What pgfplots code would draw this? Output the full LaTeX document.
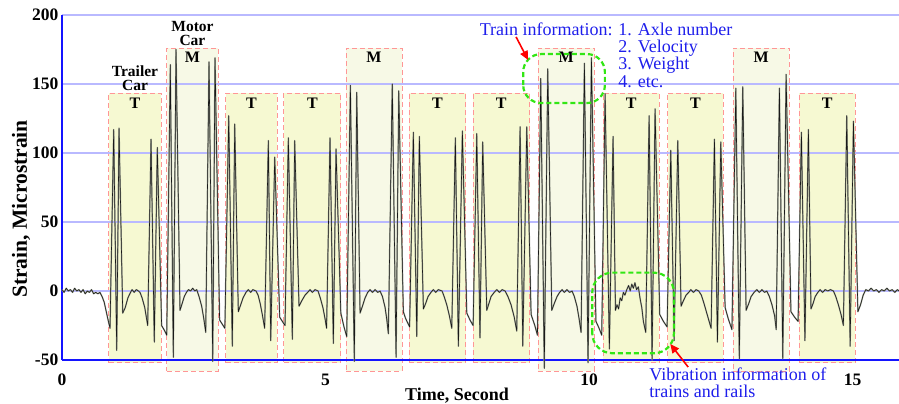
\documentclass[border=0pt]{standalone}
\usepackage{pgfplots}
\pgfplotsset{compat=1.18}
\usepackage{pgfplotstable}
\usetikzlibrary{arrows.meta}
\usepackage{fontspec}
\setmainfont{Liberation Serif}
\definecolor{axisblue}{RGB}{20,20,255}
\definecolor{gridlight}{RGB}{185,185,255}
\definecolor{griddark}{RGB}{120,120,235}
\definecolor{tfill}{RGB}{246,249,210}
\definecolor{mfill}{RGB}{247,249,230}
\definecolor{boxred}{RGB}{255,150,150}
\definecolor{ggreen}{RGB}{50,230,20}
\definecolor{txtblue}{RGB}{30,30,235}
\definecolor{halo}{RGB}{150,155,140}
\tikzset{
  tbox/.style={fill=tfill, draw=boxred, dash pattern=on 5pt off 3pt, line width=0.9pt},
  mbox/.style={fill=mfill, draw=boxred, dash pattern=on 5pt off 3pt, line width=0.9pt},
  carlab/.style={font=\bfseries\fontsize{16}{16}\selectfont, anchor=base},
  typelab/.style={font=\bfseries\fontsize{15.5}{16}\selectfont, anchor=base},
  note/.style={txtblue, font=\fontsize{18}{18}\selectfont, inner sep=0pt},
}
\pgfplotstableread{
x y
0.00 1
0.04 -1
0.08 2
0.12 0
0.16 1
0.20 -1
0.24 2
0.28 0
0.32 1
0.36 -1
0.40 1
0.44 -2
0.48 0
0.52 -1
0.56 1
0.60 -2
0.64 -1
0.68 -2
0.72 -1
0.76 -4
0.80 -8
0.84 -15
0.88 -22
0.911 -27
0.981 117
1.038 -43
1.082 118
1.152 -16
1.20 -12
1.25 -5
1.30 -1
1.33 1
1.37 -1
1.41 1
1.45 0
1.48 -1
1.52 -5
1.57 -12
1.626 -25
1.689 110
1.751 -37
1.808 104
1.89 -25
1.95 -29
1.987 -32
2.055 164
2.112 -48
2.163 175
2.239 -14
2.28 -9
2.32 -4
2.36 -1
2.40 1
2.44 0
2.48 2
2.52 0
2.556 1
2.60 -4
2.65 -11
2.69 -20
2.727 -30
2.789 166
2.860 -51
2.903 169
2.99 -21
3.04 -24
3.09 -27
3.163 127
3.231 -40
3.277 121
3.345 -15
3.39 -10
3.435 -5
3.49 -1
3.535 1
3.58 -1
3.62 1
3.681 0
3.72 -3
3.76 -9
3.80 -17
3.845 -27
3.915 109
3.960 -36
4.036 97
4.13 -19
4.231 -25
4.294 111
4.370 -35
4.415 109
4.497 -11
4.55 -7
4.611 -3
4.66 -1
4.706 1
4.75 -1
4.80 1
4.858 0
4.90 -5
4.95 -12
4.99 -20
5.02 -27
5.085 111
5.148 -38
5.199 103
5.29 -16
5.35 -26
5.402 -33
5.471 149
5.546 -51
5.592 144
5.655 -16
5.70 -11
5.750 -5
5.80 -1
5.844 1
5.89 -1
5.94 1
5.99 -1
6.034 0
6.08 -4
6.13 -12
6.16 -20
6.192 -31
6.266 150
6.338 -48
6.389 145
6.476 -15
6.52 -20
6.595 -26
6.666 115
6.731 -33
6.780 112
6.856 -13
6.90 -9
6.945 -4
7.00 -1
7.046 1
7.09 -1
7.14 1
7.211 0
7.25 -4
7.30 -10
7.35 -18
7.395 -27
7.463 111
7.520 -40
7.596 116
7.680 -16
7.74 -21
7.80 -25
7.869 114
7.930 -34
7.982 108
8.059 -14
8.10 -9
8.140 -4
8.20 -1
8.249 1
8.30 -1
8.35 1
8.406 0
8.46 -4
8.52 -10
8.58 -19
8.628 -29
8.691 119
8.742 -40
8.818 119
8.90 -17
8.97 -25
9.02 -32
9.083 154
9.150 -56
9.216 161
9.292 -14
9.34 -9
9.393 -4
9.44 -1
9.488 1
9.53 -1
9.58 1
9.63 -1
9.677 0
9.72 -4
9.77 -11
9.81 -20
9.848 -30
9.911 165
9.980 -52
10.044 169
10.13 -22
10.19 -27
10.24 -32
10.304 143
10.385 -42
10.455 112
10.50 -14
10.53 -10
10.56 -13
10.59 -5
10.62 -7
10.65 -1
10.68 -3
10.715 1
10.75 4
10.78 0
10.81 5
10.84 2
10.87 6
10.90 1
10.935 3
10.97 -6
11.00 -12
11.03 -22
11.075 -30
11.139 127
11.195 -50
11.252 132
11.34 -17
11.41 -22
11.48 -26
11.550 102
11.613 -36
11.683 109
11.745 -11
11.79 -7
11.84 -3
11.89 -1
11.93 1
11.98 -1
12.03 1
12.08 0
12.13 -3
12.18 -9
12.24 -17
12.315 -27
12.378 110
12.435 -37
12.499 108
12.581 -12
12.64 -20
12.71 -28
12.784 147
12.850 -49
12.916 148
12.979 -14
13.03 -9
13.074 -4
13.13 -1
13.182 1
13.23 -1
13.28 1
13.33 -1
13.371 0
13.42 -4
13.47 -10
13.52 -18
13.55 -28
13.611 147
13.675 -49
13.738 157
13.83 -15
13.90 -19
13.965 -22
14.028 115
14.095 -36
14.161 117
14.21 -13
14.25 -9
14.29 -4
14.34 -1
14.383 1
14.43 -1
14.48 1
14.53 0
14.58 1
14.636 0
14.68 -4
14.73 -10
14.78 -17
14.825 -25
14.889 127
14.953 -40
15.015 123
15.10 -15
15.15 -10
15.20 -3
15.25 1
15.30 0
15.35 2
15.40 0
15.45 1
15.50 -1
15.55 1
15.60 0
15.65 2
15.70 0
15.75 1
15.80 -1
15.85 1
15.88 0
}\signal
\begin{document}
\begin{tikzpicture}
\begin{axis}[
  at={(62pt,-360pt)}, anchor=south west,
  scale only axis, width=837pt, height=345pt,
  xmin=0, xmax=15.88, ymin=-50, ymax=200,
  clip=false, set layers,
  axis x line*=bottom, axis y line*=left,
  x axis line style={-, draw=axisblue, line width=2.6pt},
  y axis line style={-, draw=axisblue, line width=2.6pt},
  xtick={0,5,10,15}, ytick={-50,50,150,200},
  extra y ticks={0,100},
  extra y tick style={grid style={draw=griddark, line width=0.8pt}},
  ymajorgrids,
  major grid style={draw=gridlight, line width=1.6pt},
  major tick length=0pt,
  /pgf/number format/assume math mode=true,
  ticklabel style={font=\bfseries\fontsize{17.5}{18}\selectfont},
  yticklabel style={anchor=east, inner sep=0pt, xshift=-3.5pt},
  xticklabel style={anchor=base, inner sep=0pt, yshift=-25pt},
  xlabel={Time, Second}, ylabel={Strain, Microstrain},
  xlabel style={at={(axis description cs:0.472,-0.116)}, anchor=base, font=\bfseries\fontsize{18}{20}\selectfont},
  ylabel style={at={(axis description cs:-0.049,0.438)}, anchor=center, font=\bfseries\fontsize{21.5}{24}\selectfont},
]
% car boxes
\addplot[tbox, on layer=axis background] coordinates {(0.89,-52) (1.88,-52) (1.88,143.5) (0.89,143.5)} -- cycle;
\addplot[mbox, on layer=axis background] coordinates {(1.99,-58) (2.96,-58) (2.96,176) (1.99,176)} -- cycle;
\addplot[tbox, on layer=axis background] coordinates {(3.11,-52) (4.08,-52) (4.08,143.5) (3.11,143.5)} -- cycle;
\addplot[tbox, on layer=axis background] coordinates {(4.21,-52) (5.29,-52) (5.29,143.5) (4.21,143.5)} -- cycle;
\addplot[mbox, on layer=axis background] coordinates {(5.39,-58) (6.45,-58) (6.45,176) (5.39,176)} -- cycle;
\addplot[tbox, on layer=axis background] coordinates {(6.59,-52) (7.66,-52) (7.66,143.5) (6.59,143.5)} -- cycle;
\addplot[tbox, on layer=axis background] coordinates {(7.80,-52) (8.87,-52) (8.87,143.5) (7.80,143.5)} -- cycle;
\addplot[mbox, on layer=axis background] coordinates {(9.03,-58) (10.10,-58) (10.10,176) (9.03,176)} -- cycle;
\addplot[tbox, on layer=axis background] coordinates {(10.27,-52) (11.33,-52) (11.33,143.5) (10.27,143.5)} -- cycle;
\addplot[tbox, on layer=axis background] coordinates {(11.49,-52) (12.55,-52) (12.55,143.5) (11.49,143.5)} -- cycle;
\addplot[mbox, on layer=axis background] coordinates {(12.73,-58) (13.80,-58) (13.80,176) (12.73,176)} -- cycle;
\addplot[tbox, on layer=axis background] coordinates {(13.99,-52) (15.05,-52) (15.05,143.5) (13.99,143.5)} -- cycle;
% strain signal
\addplot[draw=halo, line width=1.4pt, line join=round] table {\signal};
\addplot[draw=black!90, line width=0.55pt, line join=round] table {\signal};
% car labels
\node[carlab] at (axis cs:1.385,132.4) {T};
\node[carlab] at (axis cs:3.595,132.4) {T};
\node[carlab] at (axis cs:4.75,132.4) {T};
\node[carlab] at (axis cs:7.125,132.4) {T};
\node[carlab] at (axis cs:8.335,132.4) {T};
\node[carlab] at (axis cs:10.80,132.4) {T};
\node[carlab] at (axis cs:12.02,132.4) {T};
\node[carlab] at (axis cs:14.52,132.4) {T};
\node[carlab] at (axis cs:2.475,165.7) {M};
\node[carlab] at (axis cs:5.92,165.7) {M};
\node[carlab] at (axis cs:9.565,165.7) {M};
\node[carlab] at (axis cs:13.265,165.7) {M};
\node[typelab] at (axis cs:1.385,155.3) {Trailer};
\node[typelab] at (axis cs:1.385,145.2) {Car};
\node[typelab] at (axis cs:2.475,187.9) {Motor};
\node[typelab] at (axis cs:2.475,177.8) {Car};
% annotations
\draw[ggreen, line width=2.2pt, dash pattern=on 5pt off 3pt, rounded corners=18pt] (axis cs:8.75,136.2) rectangle (axis cs:10.30,171.7);
\draw[ggreen, line width=2.2pt, dash pattern=on 5pt off 3pt, rounded corners=20pt] (axis cs:10.06,-45.1) rectangle (axis cs:11.61,13.3);
\draw[red, line width=1.6pt, -{Triangle[length=9pt,width=8pt]}] (axis cs:8.615,184.1) -- (axis cs:8.843,167.4);
\draw[red, line width=1.6pt, -{Triangle[length=9pt,width=8pt]}] (axis cs:11.88,-55.1) -- (axis cs:11.54,-38.4);
\node[note, anchor=base east] at (axis cs:10.45,185.5) {Train information:};
\node[note, anchor=base west] at (axis cs:10.55,185.5) {1. Axle number};
\node[note, anchor=base west] at (axis cs:10.55,173.0) {2. Velocity};
\node[note, anchor=base west] at (axis cs:10.55,160.5) {3. Weight};
\node[note, anchor=base west] at (axis cs:10.55,147.8) {4. etc.};
\node[note, anchor=base west] at (axis cs:11.14,-64.5) {Vibration information of};
\node[note, anchor=base west] at (axis cs:11.14,-77.5) {trains and rails};
\end{axis}
\pgfresetboundingbox
\path[use as bounding box] (0pt,0pt) rectangle (899pt,-404pt);
\end{tikzpicture}
\end{document}
